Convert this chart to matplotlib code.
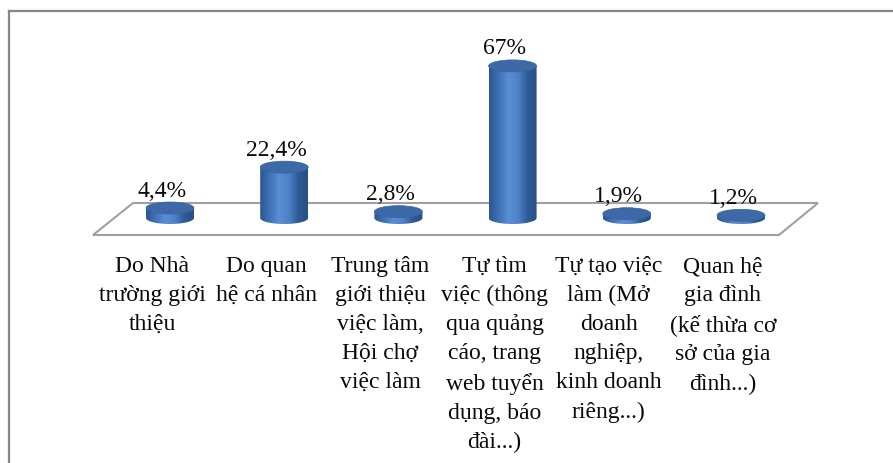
import numpy as np
import matplotlib
matplotlib.use('Agg')
import matplotlib.pyplot as plt
from matplotlib.patches import Polygon, Ellipse
from matplotlib.lines import Line2D
from matplotlib.colors import LinearSegmentedColormap

# data
categories = ["Do Nhà\ntrường giới\nthiệu",
              "Do quan\nhệ cá nhân",
              "Trung tâm\ngiới thiệu\nviệc làm,\nHội chợ\nviệc làm",
              "Tự tìm\nviệc (thông\nqua quảng\ncáo, trang\nweb tuyển\ndụng, báo\nđài...)",
              "Tự tạo việc\nlàm (Mở\ndoanh\nnghiệp,\nkinh doanh\nriêng...)",
              "Quan hệ\ngia đình\n(kế thừa cơ\nsở của gia\nđình...)"]
values = [4.4, 22.4, 2.8, 67, 1.9, 1.2]
value_labels = ["4,4%", "22,4%", "2,8%", "67%", "1,9%", "1,2%"]

plt.rcParams['font.family'] = ['Liberation Serif', 'DejaVu Serif']

W, H = 893, 463
fig = plt.figure(figsize=(W / 100, H / 100), dpi=100)
ax = fig.add_axes([0, 0, 1, 1])
ax.axis('off')

# scale: one category = 114.2 px, 1% = 2.27 px, baseline at 218 px from top
px_x = 114.2
px_y = 2.27
x0_px = 170
base_px = 218
xlim = (-x0_px / px_x, (W - x0_px) / px_x)
ylim = ((base_px - H) / px_y, base_px / px_y)

rx = 24 / px_x
ry = 6 / px_y

cmap = LinearSegmentedColormap.from_list('cyl', ['#2c5690', '#3f72b6', '#5a8fd6', '#4d82c8', '#2e5a95', '#284f85'])
grad = np.linspace(0, 1, 200).reshape(1, -1)

# floor (3D plane)
back_y = (base_px - 203) / px_y
front_y = (base_px - 235) / px_y
floor = [((133 - x0_px) / px_x, back_y), ((818 - x0_px) / px_x, back_y),
         ((779 - x0_px) / px_x, front_y), ((93 - x0_px) / px_x, front_y)]
ax.add_patch(Polygon(floor, closed=True, fill=False, edgecolor='#a0a0a0', lw=1.5, zorder=1))

for i, v in enumerate(values):
    x = i
    t = np.linspace(np.pi, 2 * np.pi, 60)
    arc = np.column_stack([x - rx * np.cos(t - np.pi), ry * np.sin(t)])
    pts = np.vstack([[x - rx, v], arc, [x + rx, v]])
    body = Polygon(pts, closed=True, facecolor='none', edgecolor='none', zorder=2)
    ax.add_patch(body)
    im = ax.imshow(grad, cmap=cmap, aspect='auto', extent=[x - rx, x + rx, -ry, v], zorder=2)
    im.set_clip_path(body)
    ax.add_patch(Ellipse((x, v), 2 * rx, 2 * ry, facecolor='#3d69a6', edgecolor='#3a64a0', lw=0.5, zorder=3))
    ax.text(x - 8 / px_x, v + ry + 0.2, value_labels[i], ha='center', va='bottom', fontsize=17,
            color='#0a0a0a', zorder=4)
    ax.text(x - 18 / px_x, (base_px - 256) / px_y, categories[i], ha='center', va='top',
            fontsize=17, linespacing=1.5, color='#0a0a0a')

ax.set_xlim(*xlim)
ax.set_ylim(*ylim)

# outer border (cut on right and bottom)
fig.add_artist(Line2D([8.5 / W, 8.5 / W], [0, 1 - 11 / H], color='#878787', lw=1.6))
fig.add_artist(Line2D([8.5 / W, 1], [1 - 11 / H, 1 - 11 / H], color='#878787', lw=1.6))

fig.savefig('out.png', dpi=100)
